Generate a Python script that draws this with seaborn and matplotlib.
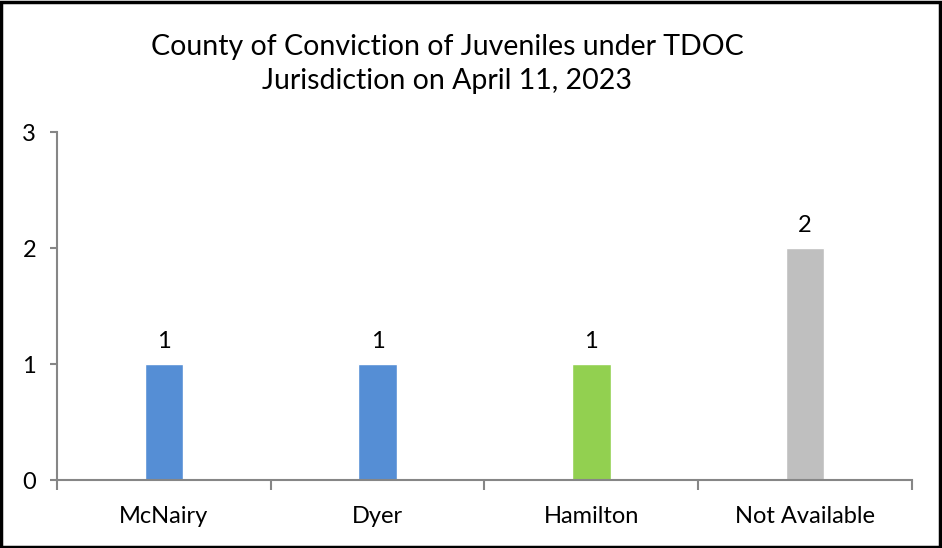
import matplotlib
matplotlib.use("Agg")
import matplotlib.pyplot as plt
import seaborn as sns
import pandas as pd
from matplotlib.patches import Rectangle

counties = ["McNairy", "Dyer", "Hamilton", "Not Available"]
counts = [1, 1, 1, 2]
colors = ["#558ED5", "#558ED5", "#92D050", "#BFBFBF"]
yticks = [0, 1, 2, 3]
title = "County of Conviction of Juveniles under TDOC\nJurisdiction on April 11, 2023"

sns.set_theme(style="white")
plt.rcParams['font.family'] = ['Lato', 'DejaVu Sans']

df = pd.DataFrame({"county": counties, "count": counts})

fig = plt.figure(figsize=(9.42, 5.48), dpi=100)
ax = fig.add_axes([0.0605, 0.124, 0.9075, 0.635])
sns.barplot(data=df, x="county", y="count", hue="county", palette=colors,
            width=0.18, legend=False, ax=ax, saturation=1)

axis_col = "#868686"
ax.set_ylim(0, 3)
ax.set_xlim(-0.5, len(counties) - 0.5)
ax.set_yticks(yticks)
ax.set_yticklabels([str(t) for t in yticks], fontsize=17, color="#000000")
ax.tick_params(axis="y", length=5, width=1.5, color=axis_col, pad=10, left=True)
ax.set_xticks(range(len(counties)))
ax.set_xticklabels(counties, fontsize=17, color="#000000")
ax.tick_params(axis="x", which="major", length=0, pad=19)
ax.set_xticks([i - 0.5 for i in range(len(counties) + 1)], minor=True)
ax.tick_params(axis="x", which="minor", length=7, width=1.5, color=axis_col, bottom=True)
ax.set_xlabel("")
ax.set_ylabel("")
for s in ["top", "right"]:
    ax.spines[s].set_visible(False)
for s in ["left", "bottom"]:
    ax.spines[s].set_color(axis_col)
    ax.spines[s].set_linewidth(1.5)

for i, v in enumerate(counts):
    ax.text(i, v + 0.1, str(v), ha="center", va="bottom", fontsize=17, color="#000000")

fig.text(0.4745, 0.884, title, ha="center", va="center", fontsize=20.5,
         color="#000000", linespacing=1.38)

fig.patches.append(Rectangle((0.001, 0.002), 0.997, 0.995, transform=fig.transFigure,
                             fill=False, edgecolor="black", linewidth=2.5, zorder=10))

fig.savefig("out.png", dpi=100)
